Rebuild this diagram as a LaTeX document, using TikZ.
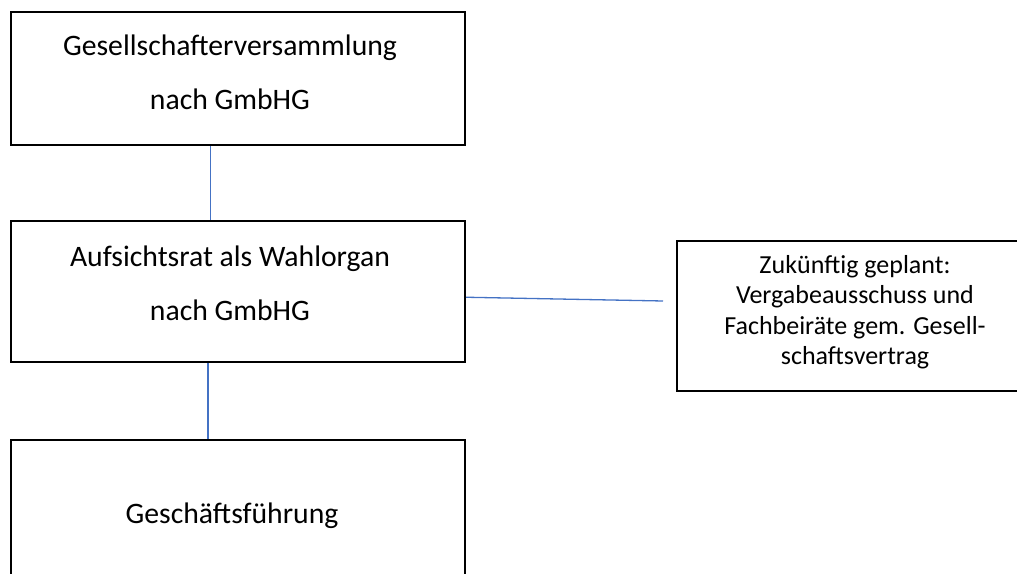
\documentclass[tikz,border=0pt]{standalone}
\usepackage{fontspec}
\setmainfont{Carlito}
\definecolor{linkblue}{HTML}{4472C4}

\begin{document}
\begin{tikzpicture}[x=1pt, y=1pt,
  box/.style={draw, line width=2pt, minimum width=454pt, inner sep=0pt},
  boxtext/.style={align=center, inner sep=0pt, font=\fontsize{29.7}{54}\selectfont},
  link/.style={draw=linkblue, line width=1.3pt}]
\useasboundingbox (0,0) rectangle (1017,573);
\clip (0,0) rectangle (1017,573);
\node[box, minimum height=133pt, label={[boxtext, xshift=-8pt, yshift=6pt]center:Gesellschafterversammlung\\nach GmbHG}] (gesv) at (238,494.5) {};
\node[box, minimum height=141.5pt, label={[boxtext, xshift=-8pt, yshift=8pt]center:Aufsichtsrat als Wahlorgan\\nach GmbHG}] (aufr) at (238,281.25) {};
\node[box, minimum height=150pt, label={[boxtext, xshift=-6pt, yshift=-1pt]center:Geschäftsführung}] (gf) at (238,58) {};
\node[box, minimum width=356pt, minimum height=150pt, label={[boxtext, font=\fontsize{26}{30.5}\selectfont, yshift=4pt]center:Zukünftig geplant:\\Vergabeausschuss und\\Fachbeiräte gem. Gesell-\\schaftsvertrag}] (zuk) at (855,257) {};
% Verbindungslinien
\draw[link] ([xshift=-27.5pt]gesv.south) -- ([xshift=-27.5pt]aufr.north);
\draw[link] ([xshift=-30pt]aufr.south) -- ([xshift=-30pt]gf.north);
\coordinate (zukend) at ([xshift=-13pt, yshift=15pt]zuk.west);
\draw[link] ([yshift=-5.5pt]aufr.east) -- (zukend);
\end{tikzpicture}
\end{document}
